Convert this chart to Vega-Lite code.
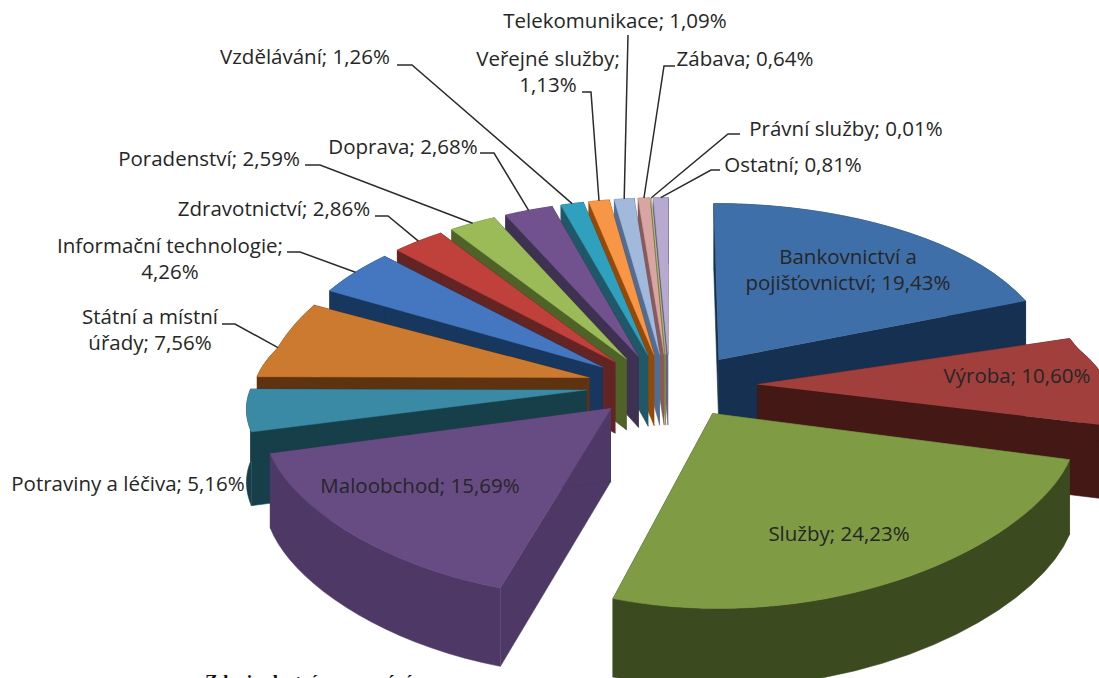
{
 "$schema":"https://vega.github.io/schema/vega-lite/v6.json",
 "width":1099,"height":678,"padding":0,"autosize":{"type":"none"},
 "background":"white","view":{"stroke":null},
 "layer":[
 {
  "data":{"values":[
   {"rank":16,"sector":"Ostatní","share":0.81,"label":"Ostatní; 0,81%"},
   {"rank":15,"sector":"Právní služby","share":0.01,"label":"Právní služby; 0,01%"},
   {"rank":14,"sector":"Zábava","share":0.64,"label":"Zábava; 0,64%"},
   {"rank":13,"sector":"Telekomunikace","share":1.09,"label":"Telekomunikace; 1,09%"},
   {"rank":12,"sector":"Veřejné služby","share":1.13,"label":"Veřejné služby;\n1,13%"},
   {"rank":11,"sector":"Vzdělávání","share":1.26,"label":"Vzdělávání; 1,26%"},
   {"rank":10,"sector":"Doprava","share":2.68,"label":"Doprava; 2,68%"},
   {"rank":9,"sector":"Poradenství","share":2.59,"label":"Poradenství; 2,59%"},
   {"rank":8,"sector":"Zdravotnictví","share":2.86,"label":"Zdravotnictví; 2,86%"},
   {"rank":7,"sector":"Informační technologie","share":4.26,"label":"Informační technologie;\n4,26%"},
   {"rank":1,"sector":"Bankovnictví a pojišťovnictví","share":19.43,"label":"Bankovnictví a\npojišťovnictví; 19,43%"},
   {"rank":6,"sector":"Státní a místní úřady","share":7.56,"label":"Státní a místní\núřady; 7,56%"},
   {"rank":5,"sector":"Potraviny a léčiva","share":5.16,"label":"Potraviny a léčiva; 5,16%"},
   {"rank":2,"sector":"Výroba","share":10.60,"label":"Výroba; 10,60%"},
   {"rank":4,"sector":"Maloobchod","share":15.69,"label":"Maloobchod; 15,69%"},
   {"rank":3,"sector":"Služby","share":24.23,"label":"Služby; 24,23%"}
  ]},
  "transform":[
   {"stack":"share","groupby":[],"sort":[{"field":"rank","order":"ascending"}],"as":["s0","s1"]},
   {"calculate":"datum.s0/100*2*PI","as":"a0"},
   {"calculate":"datum.s1/100*2*PI","as":"a1"},
   {"calculate":"(datum.a0+datum.a1)/2","as":"mid"},
   {"calculate":"0.25*sin(datum.mid)","as":"ex"},
   {"calculate":"0.25*cos(datum.mid)","as":"ez"}
  ],
  "layer":[
   {
    "transform":[
     {"calculate":"['wall0','wall1','rim','top']","as":"face"},
     {"flatten":["face"]},
     {"calculate":"sequence(0,42)","as":"k"},
     {"flatten":["k"]},
     {"calculate":"datum.face=='wall0'?0:datum.face=='wall1'?1:datum.face=='top'?max(datum.k-1,0)/40:(datum.k<=20?datum.k/20:(41-datum.k)/20)","as":"u"},
     {"calculate":"datum.face=='top'?(datum.k==0?0:1):datum.face=='rim'?1:((datum.k==1||datum.k==2)?1:0)","as":"rho"},
     {"calculate":"datum.face=='top'?0:datum.face=='rim'?(datum.k<=20?0:1):(datum.k>=2?1:0)","as":"drop"},
     {"calculate":"datum.a0+(datum.a1-datum.a0)*datum.u","as":"t"},
     {"calculate":"datum.ex+datum.rho*sin(datum.t)","as":"X"},
     {"calculate":"datum.ez+datum.rho*cos(datum.t)","as":"Z"},
     {"calculate":"(datum.X<0?335:350)*datum.X/(1+0.12*datum.Z)","as":"px"},
     {"calculate":"datum.Z*(125-15.5*datum.Z+26.3*datum.Z*datum.Z)+85*max(datum.Z-0.3,0)*max(1.3-datum.Z,0)-72*datum.drop/(1+0.07*datum.Z)","as":"py"},
     {"calculate":"datum.sector+'|'+(datum.face=='top'?'top':'side')","as":"paint"},
     {"calculate":"datum.sector+'|'+datum.face","as":"poly"}
    ],
    "mark":{"type":"line","clip":true,"strokeWidth":0.6,"interpolate":"linear"},
    "encoding":{
     "x":{"field":"px","type":"quantitative","axis":null,"scale":{"domain":[-670,429],"nice":false,"zero":false}},
     "y":{"field":"py","type":"quantitative","axis":null,"scale":{"domain":[-293,385],"nice":false,"zero":false}},
     "detail":{"field":"poly"},
     "order":{"field":"k","type":"quantitative"},
     "fill":{"field":"paint","type":"nominal","legend":null,"scale":{"domain":[
       "Bankovnictví a pojišťovnictví|top","Bankovnictví a pojišťovnictví|side",
       "Výroba|top","Výroba|side","Služby|top","Služby|side","Maloobchod|top","Maloobchod|side",
       "Potraviny a léčiva|top","Potraviny a léčiva|side","Státní a místní úřady|top","Státní a místní úřady|side",
       "Informační technologie|top","Informační technologie|side","Zdravotnictví|top","Zdravotnictví|side",
       "Poradenství|top","Poradenství|side","Doprava|top","Doprava|side","Vzdělávání|top","Vzdělávání|side",
       "Veřejné služby|top","Veřejné služby|side","Telekomunikace|top","Telekomunikace|side",
       "Zábava|top","Zábava|side","Právní služby|top","Právní služby|side","Ostatní|top","Ostatní|side"],
      "range":["#3f6fa8","#153050","#a03f3c","#431815","#7f9c45","#3b4a1f","#674c84","#4d3866",
       "#3a8aa5","#173f4a","#cb7a30","#5f3310","#4477c0","#17375e","#c0403c","#632423",
       "#9bbb59","#4f6228","#71528f","#3f3151","#30a0bf","#205867","#f79646","#974806",
       "#a2b9dc","#4f6d95","#d8a5a3","#8a5a58","#c3d69b","#76923c","#b7a9d0","#6a5b88"]}},
     "stroke":{"field":"paint","type":"nominal","legend":null,"scale":{"domain":[
       "Bankovnictví a pojišťovnictví|top","Bankovnictví a pojišťovnictví|side",
       "Výroba|top","Výroba|side","Služby|top","Služby|side","Maloobchod|top","Maloobchod|side",
       "Potraviny a léčiva|top","Potraviny a léčiva|side","Státní a místní úřady|top","Státní a místní úřady|side",
       "Informační technologie|top","Informační technologie|side","Zdravotnictví|top","Zdravotnictví|side",
       "Poradenství|top","Poradenství|side","Doprava|top","Doprava|side","Vzdělávání|top","Vzdělávání|side",
       "Veřejné služby|top","Veřejné služby|side","Telekomunikace|top","Telekomunikace|side",
       "Zábava|top","Zábava|side","Právní služby|top","Právní služby|side","Ostatní|top","Ostatní|side"],
      "range":["#3f6fa8","#153050","#a03f3c","#431815","#7f9c45","#3b4a1f","#674c84","#4d3866",
       "#3a8aa5","#173f4a","#cb7a30","#5f3310","#4477c0","#17375e","#c0403c","#632423",
       "#9bbb59","#4f6228","#71528f","#3f3151","#30a0bf","#205867","#f79646","#974806",
       "#a2b9dc","#4f6d95","#d8a5a3","#8a5a58","#c3d69b","#76923c","#b7a9d0","#6a5b88"]}}
    }
   },
   {
    "transform":[
     {"calculate":"{'Telekomunikace':[-42,350,-42,350],'Veřejné služby':[-79,293,-88,293],'Zábava':[-6,319,5,319],'Právní služby':[58,251,70,251],'Ostatní':[41,215,50,215],'Vzdělávání':[-258,320,-273,320],'Doprava':[-176,232,-190,232],'Poradenství':[-350,220,-365,220],'Zdravotnictví':[-282,169,-295,169],'Informační technologie':[-370,133,-383,133],'Státní a místní úřady':[-435,61,-448,61]}[datum.sector]","as":"lead"},
     {"filter":"isArray(datum.lead)"},
     {"calculate":"sequence(0,3)","as":"k"},
     {"flatten":["k"]},
     {"calculate":"datum.ex+sin(datum.mid)","as":"X"},
     {"calculate":"datum.ez+cos(datum.mid)","as":"Z"},
     {"calculate":"datum.k==0?(datum.X<0?335:350)*datum.X/(1+0.12*datum.Z):datum.k==1?datum.lead[0]:datum.lead[2]","as":"px"},
     {"calculate":"datum.k==0?datum.Z*(125-15.5*datum.Z+26.3*datum.Z*datum.Z)+85*max(datum.Z-0.3,0)*max(1.3-datum.Z,0):datum.k==1?datum.lead[1]:datum.lead[3]","as":"py"}
    ],
    "mark":{"type":"line","color":"#2b2b2b","strokeWidth":1.5},
    "encoding":{
     "x":{"field":"px","type":"quantitative","axis":null},
     "y":{"field":"py","type":"quantitative","axis":null},
     "detail":{"field":"sector"},
     "order":{"field":"k","type":"quantitative"}
    }
   },
   {
    "transform":[
     {"calculate":"{'Telekomunikace':[-55,363],'Veřejné služby':[-122,325],'Zábava':[75,325],'Právní služby':[176,255],'Ostatní':[123,219],'Vzdělávání':[-365,327],'Doprava':[-267,237],'Poradenství':[-461,225],'Zdravotnictví':[-396,175],'Informační technologie':[-500,138],'Státní a místní úřady':[-520,67],'Potraviny a léčiva':[-542,-100],'Bankovnictví a pojišťovnictví':[178,127],'Výroba':[347,8],'Služby':[169,-150],'Maloobchod':[-250,-102]}[datum.sector]","as":"spot"},
     {"calculate":"datum.spot[0]","as":"tx"},
     {"calculate":"datum.spot[1]","as":"ty"}
    ],
    "mark":{"type":"text","font":"Open Sans","fontSize":20.5,"color":"#262626","align":"center","baseline":"middle","lineBreak":"\n","lineHeight":26},
    "encoding":{
     "x":{"field":"tx","type":"quantitative","axis":null},
     "y":{"field":"ty","type":"quantitative","axis":null},
     "text":{"field":"label"}
    }
   }
  ]
 },
 {
  "data":{"values":[{"note":"Zdroj: vlastní zpracování"}]},
  "mark":{"type":"text","font":"Liberation Serif","fontWeight":"bold","fontSize":19,"color":"#111","align":"left","baseline":"alphabetic"},
  "encoding":{
   "x":{"datum":-465,"type":"quantitative","axis":null},
   "y":{"datum":-303,"type":"quantitative","axis":null},
   "text":{"field":"note"}
  }
 }
 ]
}
